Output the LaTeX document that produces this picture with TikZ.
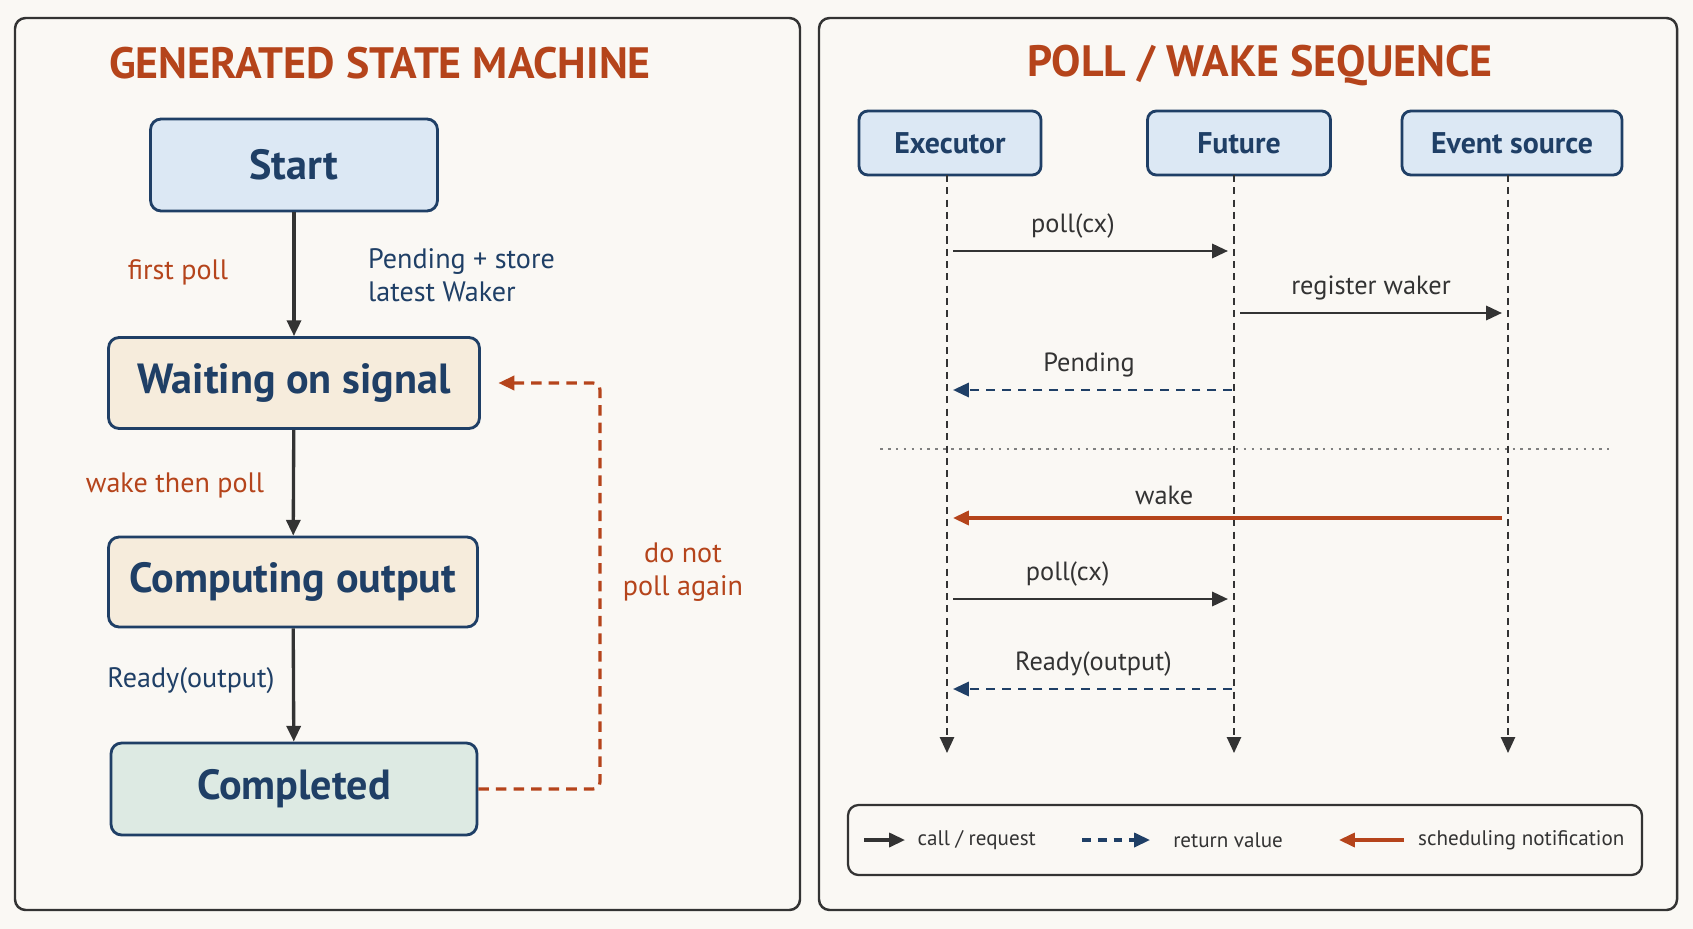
\documentclass[tikz,border=0pt]{standalone}
\usepackage{fontspec}
\setmainfont{PT Sans}
\usetikzlibrary{arrows.meta,calc,positioning}
\definecolor{bgc}{HTML}{FAF8F4}
\definecolor{rust}{HTML}{B5441B}
\definecolor{navy}{HTML}{1F3F66}
\definecolor{ink}{HTML}{333333}
\definecolor{blueF}{HTML}{DCE8F4}
\definecolor{sandF}{HTML}{F6ECDC}
\definecolor{mintF}{HTML}{DDEAE3}
\begin{document}
\begin{tikzpicture}[x=0.02cm,y=-0.02cm,>={Triangle[length=9pt,width=8pt]},
  panel/.style={draw=ink,line width=1.4pt,rounded corners=6pt},
  state/.style={draw=navy,line width=1.6pt,rounded corners=6pt,font=\bfseries\fontsize{24}{28}\selectfont,text=navy},
  actor/.style={draw=navy,line width=1.6pt,rounded corners=5pt,fill=blueF,font=\bfseries\fontsize{17}{20}\selectfont,text=navy,minimum height=1.28cm},
  title/.style={font=\bfseries\fontsize{25}{28}\selectfont,text=rust},
  lbl/.style={font=\fontsize{16}{19}\selectfont},
  msg/.style={font=\fontsize{15}{18}\selectfont,text=ink},
  leg/.style={font=\fontsize{12}{14}\selectfont,text=ink},
  call/.style={->,draw=ink,line width=1.6pt},
  ret/.style={->,draw=navy,line width=1.6pt,dash pattern=on 5pt off 4pt},
  note/.style={->,draw=rust,line width=1.6pt},
  life/.style={->,draw=ink,line width=1.1pt,dash pattern=on 4pt off 3pt}]
\fill[bgc] (0,0) rectangle (1693,929);
\useasboundingbox (0,0) rectangle (1693,929);
% panels
\draw[panel] (15,18) rectangle (800,910);
\draw[panel] (819,18) rectangle (1677,910);
\node[title] (t_sm) at (380,63) {GENERATED STATE MACHINE};
\node[title] (t_seq) at (1260,66) {POLL / WAKE SEQUENCE};
% state machine
\node[state,fill=blueF,minimum width=5.74cm,minimum height=1.84cm] (start) at (294,165) {Start};
\node[state,fill=sandF,minimum width=7.42cm,minimum height=1.82cm] (wait) at (294,383) {Waiting on signal};
\node[state,fill=sandF,minimum width=7.38cm,minimum height=1.8cm] (comp) at (293,582) {Computing output};
\node[state,fill=mintF,minimum width=7.32cm,minimum height=1.84cm] (done) at (294,789) {Completed};
\draw[call,line width=1.9pt] (start) -- (wait);
\draw[call,line width=1.9pt] (wait) -- (comp);
\draw[call,line width=1.9pt] (comp) -- (done);
\node[lbl,text=rust] (l_first) at (178,272) {first poll};
\node[lbl,text=navy,align=left,anchor=west] (l_pend) at (362,275) {Pending + store\\latest Waker};
\node[lbl,text=rust] (l_wake) at (175,485) {wake then poll};
\node[lbl,text=navy] (l_ready) at (191,681) {Ready(output)};
\node[lbl,text=rust,align=center] (l_again) at (683,572) {do not\\poll again};
\coordinate (c_loop) at (600,0);
\draw[note,line width=1.8pt,dash pattern=on 6pt off 4pt,rounded corners=4pt]
  (done.east) -- (done.east -| c_loop) -- (wait.east -| c_loop) -- ([xshift=10pt]wait.east);
% sequence
\node[actor,minimum width=3.64cm] (exe) at (950,143) {Executor};
\node[actor,minimum width=3.66cm] (fut) at (1239,143) {Future};
\node[actor,minimum width=4.4cm] (evt) at (1512,143) {Event source};
\foreach \a/\x in {exe/947,fut/1234,evt/1508}{
  \coordinate (\a_top) at (\x,175);
  \coordinate (\a_end) at (\x,753);
  \draw[life] (\a_top) -- (\a_end);
}
\draw[call] ($(exe_top)+(6,76)$) -- ($(fut_top)+(-6,76)$) node[msg,midway,above=3pt,xshift=-10pt] {poll(cx)};
\draw[call] ($(fut_top)+(6,138)$) -- ($(evt_top)+(-6,138)$) node[msg,midway,above=3pt] {register waker};
\draw[ret] ($(fut_top)+(-2,215)$) -- ($(exe_top)+(6,215)$) node[msg,midway,above=3pt,xshift=-2pt] {Pending};
\draw[draw=gray,line width=1.3pt,dash pattern=on 1.5pt off 3pt] (880,449) coordinate (sep_l) -- (1609,449) coordinate (sep_r);
\draw[note,line width=1.8pt] ($(evt_top)+(-6,343)$) -- ($(exe_top)+(6,343)$) node[msg,midway,above=3pt,xshift=-36pt] {wake};
\draw[call] ($(exe_top)+(6,424)$) -- ($(fut_top)+(-6,424)$) node[msg,midway,above=3pt,xshift=-13pt] {poll(cx)};
\draw[ret] ($(fut_top)+(-2,514)$) -- ($(exe_top)+(6,514)$) node[msg,midway,above=3pt,xshift=0.5pt] {Ready(output)};
% legend
\draw[panel,line width=1.3pt] (848,805) rectangle (1642,875);
\coordinate (k1) at (864,840); \coordinate (k1e) at (905,840);
\coordinate (k2) at (1082,840); \coordinate (k2e) at (1150,840);
\coordinate (k3) at (1404,840); \coordinate (k3e) at (1339,840);
\draw[call,line width=1.8pt] (k1) -- (k1e) node[leg,right=3pt] {call / request};
\draw[ret,line width=1.8pt] (k2) -- (k2e) node[leg,right=9pt] {return value};
\draw[note,line width=1.8pt] (k3) -- (k3e);
\node[leg,anchor=west] (k3t) at (1412,840) {scheduling notification};
\end{tikzpicture}
\end{document}
